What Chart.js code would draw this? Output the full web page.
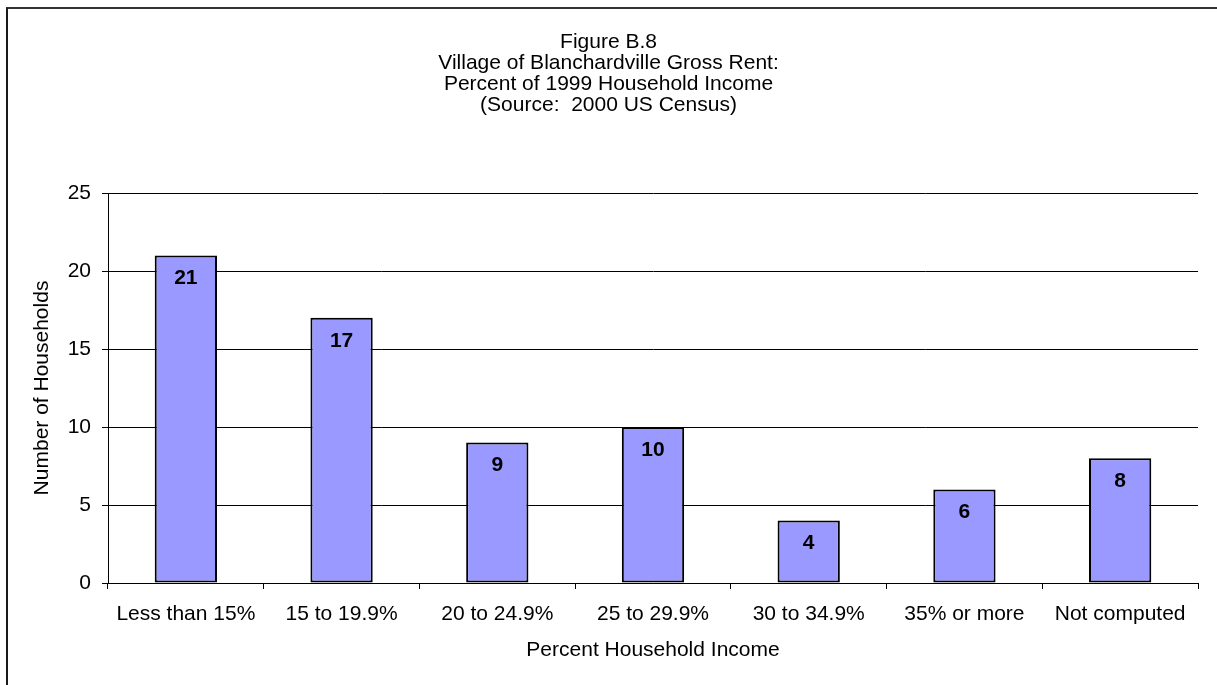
<!DOCTYPE html>
<html>
<head>
<meta charset="utf-8">
<script src="https://cdn.jsdelivr.net/npm/chart.js@4"></script>
<style>
  html, body { margin: 0; padding: 0; background: #fff; overflow: hidden; }
  #marco {
    position: absolute; left: 6px; top: 7px; width: 1400px; height: 900px;
    border-left: 2px solid #1a1a1a; border-top: 2px solid #333;
  }
  #contenedor { position: absolute; left: 0; top: 0; width: 1217px; height: 685px; }
</style>
</head>
<body>
<div id="marco"></div>
<div id="contenedor"><canvas id="grafico"></canvas></div>
<script>
const categorias = ["Less than 15%", "15 to 19.9%", "20 to 24.9%", "25 to 29.9%", "30 to 34.9%", "35% or more", "Not computed"];
const hogares = [21, 17, 9, 10, 4, 6, 8];
const titulo = [
  "Figure B.8",
  "Village of Blanchardville Gross Rent:",
  "Percent of 1999 Household Income",
  "(Source:  2000 US Census)"
];
const tituloY = "Number of Households";
const tituloX = "Percent Household Income";

const fuente = "Arial, 'Liberation Sans', sans-serif";

// numeros en negrita dentro de cada barra
const etiquetasBarras = {
  id: "etiquetasBarras",
  afterDatasetsDraw(chart) {
    const ctx = chart.ctx;
    const meta = chart.getDatasetMeta(0);
    ctx.save();
    ctx.font = "bold 21px " + fuente;
    ctx.fillStyle = "#000";
    ctx.textAlign = "center";
    ctx.textBaseline = "middle";
    meta.data.forEach((barra, i) => {
      ctx.fillText(String(hogares[i]), barra.x, barra.y + 23);
    });
    ctx.restore();
  }
};

new Chart(document.getElementById("grafico"), {
  type: "bar",
  data: {
    labels: categorias,
    datasets: [
      {
        data: hogares,
        backgroundColor: "#9999FF",
        borderColor: "#000",
        borderWidth: 2,
        borderSkipped: false,
        barPercentage: 0.4,
        categoryPercentage: 1
      }
    ]
  },
  options: {
    responsive: true,
    maintainAspectRatio: false,
    animation: false,
    layout: { padding: 0 },
    plugins: {
      legend: { display: false },
      tooltip: { enabled: false },
      title: {
        display: true,
        text: titulo,
        color: "#000",
        font: { family: fuente, size: 21, weight: "normal", lineHeight: 1.0 },
        padding: { top: 32, bottom: 77 }
      }
    },
    scales: {
      x: {
        grid: { offset: true, drawOnChartArea: false, drawTicks: true, tickLength: 6, color: "#000" },
        border: { color: "#000", width: 1 },
        ticks: { color: "#000", font: { family: fuente, size: 21 }, padding: 13, maxRotation: 0 },
        title: {
          display: true,
          text: tituloX,
          color: "#000",
          font: { family: fuente, size: 21 },
          padding: { top: 0, bottom: 22 }
        },
        afterFit(scale) { scale.height = 102; }
      },
      y: {
        min: 0,
        max: 25,
        ticks: { stepSize: 5, color: "#000", font: { family: fuente, size: 21 }, padding: 11 },
        grid: { color: "#000", tickLength: 6, lineWidth: 1 },
        border: { color: "#000", width: 1 },
        title: {
          display: true,
          text: tituloY,
          color: "#000",
          font: { family: fuente, size: 21 },
          padding: { top: 30, bottom: 0 }
        },
        afterFit(scale) { scale.width = 108; }
      },
      // eje vacio a la derecha, solo deja el margen
      margenDerecho: {
        position: "right",
        display: true,
        grid: { display: false },
        border: { display: false },
        ticks: { display: false },
        afterFit(scale) { scale.width = 19; }
      }
    }
  },
  plugins: [etiquetasBarras]
});
</script>
</body>
</html>
